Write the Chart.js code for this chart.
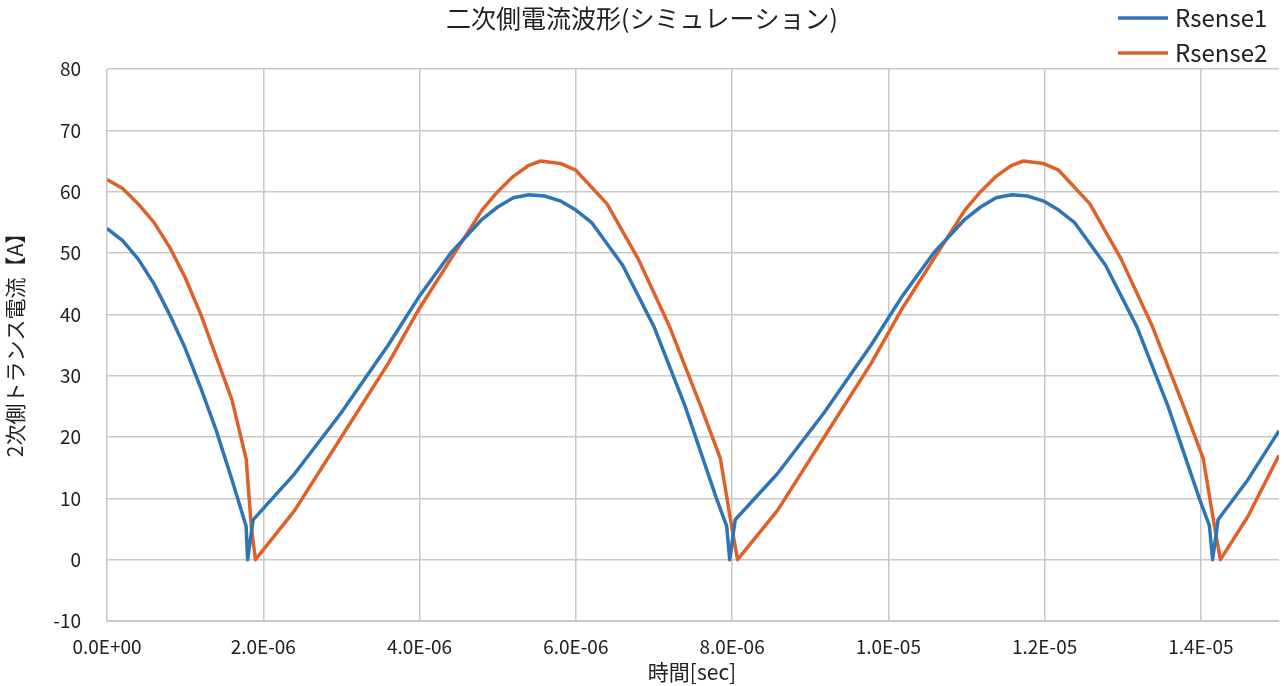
<!DOCTYPE html>
<html><head><meta charset="utf-8">
<script src="https://cdn.jsdelivr.net/npm/chart.js@4"></script>
<style>html,body{margin:0;background:#fff}#c{display:block}</style>
</head><body>
<div style="width:1284px;height:686px"><canvas id="c"></canvas></div>
<script>
// time in microseconds, current in A
const t1 = [0,0.2,0.4,0.6,0.8,1.0,1.2,1.4,1.6,1.78,1.8,1.87,2.4,3.0,3.6,4.0,4.4,4.8,5.0,5.2,5.4,5.6,5.8,6.0,6.2,6.6,7.0,7.4,7.8,7.93,7.97,8.04,8.58,9.18,9.78,10.18,10.58,10.98,11.18,11.38,11.58,11.78,11.98,12.18,12.38,12.78,13.18,13.58,13.98,14.11,14.15,14.22,14.6,15];
const i1 = [54,52,49,45,40,34.5,28,21,13,5.5,0,6.5,14,24,35,43,50,55.5,57.5,59,59.5,59.3,58.5,57,55,48,38,25,10,5.5,0,6.5,14,24,35,43,50,55.5,57.5,59,59.5,59.3,58.5,57,55,48,38,25,10,5.5,0,6.5,13,21];
const t2 = [0,0.2,0.4,0.6,0.8,1.0,1.2,1.4,1.6,1.78,1.85,1.9,2.4,3.0,3.6,4.0,4.4,4.8,5.0,5.2,5.4,5.55,5.8,6.0,6.4,6.8,7.2,7.6,7.85,8.0,8.07,8.58,9.18,9.78,10.18,10.58,10.98,11.18,11.38,11.58,11.73,11.98,12.18,12.58,12.98,13.38,13.78,14.03,14.18,14.25,14.6,15];
const i2 = [62,60.5,58,55,51,46,40,33,26,16.5,5,0,8,20,32,41,49,57,60,62.5,64.3,65,64.6,63.5,58,49,38,25,16.5,5,0,8,20,32,41,49,57,60,62.5,64.3,65,64.6,63.5,58,49,38,25,16.5,5,0,7,17];
const xTicks = [0,2,4,6,8,10,12,14];
const labels = ['Rsense1','Rsense2'];
const colors = ['#2e75b6','#e0602a'];
const FONT = "'Noto Sans CJK JP','Noto Sans',sans-serif";

function fmtE(us){
  if (us === 0) return '0.0E+00';
  let e = Math.floor(Math.log10(us)) - 6;
  let m = us * 1e-6 / Math.pow(10, e);
  return m.toFixed(1) + 'E' + (e < 0 ? '-' : '+') + String(Math.abs(e)).padStart(2, '0');
}

const textPlugin = {
  id: 'texts',
  afterDraw(chart) {
    const ctx = chart.ctx;
    ctx.save();
    ctx.fillStyle = '#222';
    ctx.textAlign = 'center'; ctx.textBaseline = 'middle';
    ctx.font = '25px ' + FONT;
    ctx.fillText('二次側電流波形(シミュレーション)', 642, 18);
    ctx.font = '21px ' + FONT;
    ctx.fillText('時間[sec]', 692, 672);
    ctx.translate(15, 340); ctx.rotate(-Math.PI / 2);
    ctx.fillText('2次側トランス電流【A】', 0, 0);
    ctx.restore();
    ctx.save();
    ctx.font = '24px ' + FONT; ctx.textBaseline = 'middle'; ctx.fillStyle = '#222';
    labels.forEach((l, k) => {
      const y = 18 + k * 35;
      ctx.strokeStyle = colors[k]; ctx.lineWidth = 3.5;
      ctx.beginPath(); ctx.moveTo(1118, y); ctx.lineTo(1168, y); ctx.stroke();
      ctx.fillText(l, 1175, y);
    });
    ctx.restore();
  }
};

new Chart(document.getElementById('c'), {
  type: 'scatter',
  data: {
    datasets: [
      { label: labels[0], data: t1.map((x, k) => ({ x, y: i1[k] })) },
      { label: labels[1], data: t2.map((x, k) => ({ x, y: i2[k] })) }
    ].map((d, k) => Object.assign(d, {
      showLine: true, borderColor: colors[k], borderWidth: 3.5, pointRadius: 0,
      tension: 0, borderJoinStyle: 'round'
    }))
  },
  options: {
    responsive: true, maintainAspectRatio: false, animation: false,
    layout: { padding: { top: 69, right: 5, left: 0, bottom: 0 } },
    plugins: { legend: { display: false }, tooltip: { enabled: false } },
    scales: {
      x: {
        type: 'linear', min: 0, max: 15,
        afterBuildTicks: s => { s.ticks = xTicks.map(v => ({ value: v })); },
        afterFit: s => { s.height = 65; },
        grid: { color: '#c8c8c8', lineWidth: 1.5, drawTicks: false },
        border: { color: '#c8c8c8' },
        ticks: { color: '#222', font: { size: 19, family: FONT }, padding: 14, maxRotation: 0, callback: v => fmtE(v) }
      },
      y: {
        min: -10, max: 80,
        afterFit: s => { s.width = 107; },
        grid: { color: '#c8c8c8', lineWidth: 1.5, drawTicks: false },
        border: { display: false },
        ticks: { stepSize: 10, color: '#222', font: { size: 19, family: FONT }, padding: 26 }
      }
    }
  },
  plugins: [textPlugin]
});
</script>
</body></html>
